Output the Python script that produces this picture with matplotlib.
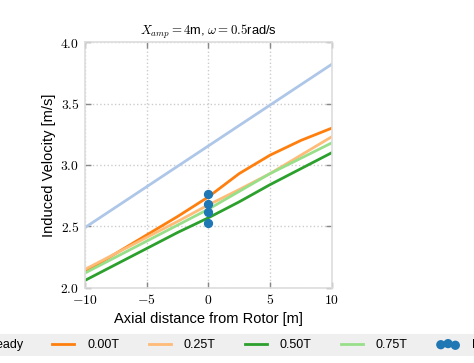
import matplotlib
matplotlib.use("Agg")
import matplotlib.pyplot as plt
from matplotlib.ticker import FuncFormatter, MultipleLocator

plt.rcParams['font.family'] = ['Liberation Sans', 'DejaVu Sans']
plt.rcParams['mathtext.fontset'] = 'cm'

# Data
x_steady = [-10, 10]
v_steady = [2.49, 3.82]
x_pos = [-10, -7.5, -5, -2.5, 0, 2.5, 5, 7.5, 10]
v_000 = [2.13, 2.28, 2.43, 2.58, 2.74, 2.93, 3.08, 3.20, 3.30]
v_025 = [2.15, 2.28, 2.41, 2.54, 2.675, 2.80, 2.93, 3.08, 3.23]
v_050 = [2.06, 2.19, 2.32, 2.45, 2.57, 2.70, 2.84, 2.97, 3.10]
v_075 = [2.12, 2.25, 2.38, 2.51, 2.64, 2.785, 2.93, 3.055, 3.18]
x_pts = [0, 0, 0, 0]
v_pts = [2.76, 2.68, 2.62, 2.53]
labels = ['Steady', '0.00T', '0.25T', '0.50T', '0.75T', 'Measured']

fig = plt.figure(figsize=(4.74, 3.63), dpi=100)
ax = fig.add_axes([0.179, 0.207, 0.521, 0.677])

lw = 2.0
ax.plot(x_steady, v_steady, color='#aec7e8', lw=lw, label=labels[0])
ax.plot(x_pos, v_000, color='#ff7f0e', lw=lw, label=labels[1])
ax.plot(x_pos, v_025, color='#ffbb78', lw=lw, label=labels[2])
ax.plot(x_pos, v_050, color='#2ca02c', lw=lw, label=labels[3])
ax.plot(x_pos, v_075, color='#98df8a', lw=lw, label=labels[4])
ax.scatter(x_pts, v_pts, color='#1f77b4', s=32, zorder=5, label=labels[5])

ax.set_xlim(-10, 10)
ax.set_ylim(2.0, 4.0)
ax.xaxis.set_major_locator(MultipleLocator(5))
ax.yaxis.set_major_locator(MultipleLocator(0.5))
ax.xaxis.set_major_formatter(FuncFormatter(lambda v, p: r'$%g$' % v))
ax.yaxis.set_major_formatter(FuncFormatter(lambda v, p: r'$%.1f$' % v))
ax.tick_params(direction='in', top=True, right=True, length=4, width=1,
               color='#888888', labelsize=9.8, pad=4)
for s in ax.spines.values():
    s.set_color('#dddddd')
    s.set_linewidth(1.2)
ax.grid(True, linestyle=':', color='#cccccc', linewidth=1)

ax.set_xlabel('Axial distance from Rotor [m]', fontsize=10.5, labelpad=3)
ax.set_ylabel('Induced Velocity [m/s]', fontsize=10.5, labelpad=3)
ax.set_title(r'$X_{amp}=4$m, $\omega=0.5$rad/s', fontsize=9.3, pad=5)

leg = fig.legend(loc='center left', bbox_to_anchor=(-0.118, 0.0496), ncol=6,
                 fontsize=9, frameon=True, fancybox=False, handlelength=1.76,
                 handletextpad=1.04, columnspacing=2.34, borderaxespad=0,
                 scatterpoints=3)
leg.get_frame().set_facecolor('#ebebeb')
leg.get_frame().set_edgecolor('none')

fig.savefig('out.png', dpi=100)
